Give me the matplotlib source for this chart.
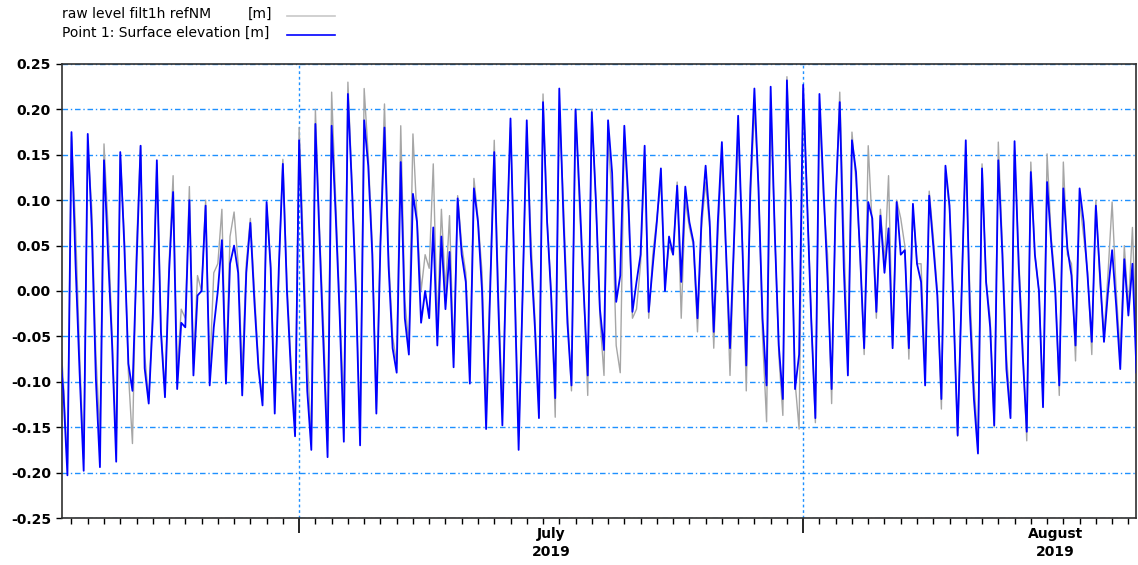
# -*- coding: utf-8 -*-
"""
Niveau d'eau au point 1 : comparaison modele / mesure filtree (juin - aout 2019)
"""
import pandas as pd
import matplotlib
matplotlib.use("Agg")
import matplotlib.pyplot as plt
import matplotlib.dates as mdates
from matplotlib.lines import Line2D
from matplotlib.ticker import FixedLocator, NullFormatter, MultipleLocator, FormatStrFormatter
from matplotlib.transforms import blended_transform_factory

plt.rcParams['font.family'] = 'DejaVu Sans'
plt.rcParams['axes.unicode_minus'] = False

"""
DONNEES : une valeur toutes les 6 h depuis le 1er juin 2019 00:00 (4 valeurs par jour)
"""
debut = "2019-06-01 00:00"

# Point 1: Surface elevation [m]
point1 = [
    0.02, -0.06, -0.11, -0.203,
    0.175, 0.03, -0.09, -0.198,
    0.173, 0.069, -0.097, -0.194,
    0.144, 0.04, -0.06, -0.188,
    0.153, 0.05, -0.08, -0.11,
    0.03, 0.16, -0.085, -0.124,
    -0.03, 0.144, -0.045, -0.117,
    0.02, 0.109, -0.108, -0.035,
    -0.04, 0.1, -0.093, -0.005,
    0.0, 0.094, -0.104, -0.04,
    0.0, 0.056, -0.102, 0.03,
    0.05, 0.02, -0.115, 0.02,
    0.075, -0.012, -0.085, -0.126,
    0.098, 0.025, -0.135, 0.025,
    0.14, 0.0, -0.09, -0.16,
    0.166, 0.03, -0.11, -0.175,
    0.184, 0.06, -0.06, -0.183,
    0.182, 0.083, -0.03, -0.166,
    0.217, 0.113, -0.005, -0.17,
    0.188, 0.138, 0.04, -0.135,
    0.05, 0.18, 0.028, -0.063,
    -0.09, 0.142, -0.03, -0.07,
    0.107, 0.076, -0.035, 0.0,
    -0.03, 0.07, -0.06, 0.06,
    -0.02, 0.043, -0.084, 0.102,
    0.04, 0.01, -0.102, 0.113,
    0.076, 0.0, -0.152, 0.0,
    0.153, -0.016, -0.148, 0.04,
    0.19, 0.006, -0.175, 0.0,
    0.188, 0.04, -0.04, -0.14,
    0.208, 0.076, -0.005, -0.118,
    0.223, 0.083, -0.035, -0.104,
    0.2, 0.105, 0.0, -0.093,
    0.197, 0.1, -0.02, -0.065,
    0.188, 0.13, -0.012, 0.017,
    0.182, 0.1, -0.023, 0.01,
    0.04, 0.16, -0.023, 0.028,
    0.076, 0.135, 0.0, 0.06,
    0.04, 0.116, 0.01, 0.115,
    0.076, 0.054, -0.03, 0.08,
    0.138, 0.076, -0.045, 0.076,
    0.164, 0.047, -0.063, 0.058,
    0.193, 0.054, -0.082, 0.113,
    0.223, 0.113, -0.03, -0.104,
    0.225, 0.065, -0.06, -0.119,
    0.232, 0.094, -0.108, -0.07,
    0.227, 0.094, -0.034, -0.14,
    0.217, 0.113, 0.014, -0.108,
    0.1, 0.208, 0.025, -0.093,
    0.166, 0.131, 0.04, -0.063,
    0.098, 0.08, -0.023, 0.083,
    0.02, 0.069, -0.063, 0.098,
    0.04, 0.045, -0.063, 0.096,
    0.03, 0.01, -0.104, 0.105,
    0.05, -0.005, -0.119, 0.138,
    0.094, -0.023, -0.159, 0.0,
    0.166, -0.023, -0.119, -0.179,
    0.135, 0.01, -0.04, -0.148,
    0.144, 0.04, -0.086, -0.14,
    0.165, 0.03, -0.07, -0.155,
    0.131, 0.04, 0.0, -0.128,
    0.12, 0.054, 0.0, -0.104,
    0.113, 0.047, 0.017, -0.06,
    0.113, 0.076, 0.014, -0.056,
    0.094, 0.02, -0.056, 0.0,
    0.045, -0.016, -0.086, 0.035,
    -0.027, 0.03, -0.09, -0.1,
]

# raw level filt1h refNM [m]
brut = [
    0.03, -0.03, -0.1, -0.19,
    0.17, 0.07, -0.07, -0.185,
    0.16, 0.09, -0.07, -0.16,
    0.162, 0.07, -0.05, -0.17,
    0.15, 0.06, -0.09, -0.168,
    0.05, 0.16, -0.07, -0.12,
    -0.02, 0.14, -0.04, -0.11,
    0.03, 0.127, -0.09, -0.02,
    -0.03, 0.115, -0.08, 0.017,
    0.0, 0.1, -0.09, 0.02,
    0.03, 0.09, -0.1, 0.06,
    0.087, 0.03, -0.09, 0.03,
    0.08, 0.0, -0.08, -0.12,
    0.095, 0.03, -0.12, 0.02,
    0.145, 0.01, -0.08, -0.15,
    0.18, 0.055, -0.07, -0.165,
    0.2, 0.07, -0.04, -0.165,
    0.219, 0.1, -0.02, -0.125,
    0.23, 0.12, 0.005, -0.16,
    0.223, 0.15, 0.05, -0.13,
    0.06, 0.206, 0.04, -0.05,
    -0.08, 0.182, -0.01, -0.06,
    0.173, 0.08, 0.0, 0.04,
    0.025, 0.14, -0.04, 0.09,
    0.0, 0.083, -0.07, 0.105,
    0.05, 0.02, -0.08, 0.124,
    0.08, 0.02, -0.13, 0.01,
    0.166, 0.0, -0.13, 0.05,
    0.18, 0.02, -0.16, 0.0,
    0.18, 0.06, -0.03, -0.13,
    0.217, 0.08, 0.0, -0.139,
    0.2, 0.1, -0.02, -0.11,
    0.2, 0.09, 0.0, -0.115,
    0.2, 0.1, -0.03, -0.093,
    0.17, 0.1, -0.06, -0.09,
    0.17, 0.09, -0.03, -0.02,
    0.03, 0.15, -0.03, 0.04,
    0.08, 0.12, 0.01, 0.05,
    0.04, 0.12, -0.03, 0.1,
    0.07, 0.05, -0.045, 0.07,
    0.12, 0.07, -0.063, 0.06,
    0.15, 0.04, -0.093, 0.05,
    0.175, 0.06, -0.11, 0.1,
    0.2, 0.12, -0.05, -0.144,
    0.2, 0.07, -0.07, -0.137,
    0.236, 0.1, -0.1, -0.152,
    0.22, 0.1, -0.03, -0.145,
    0.2, 0.1, 0.04, -0.124,
    0.1, 0.219, 0.06, -0.08,
    0.175, 0.12, 0.04, -0.07,
    0.16, 0.07, -0.03, 0.09,
    0.03, 0.127, -0.06, 0.1,
    0.08, 0.05, -0.075, 0.09,
    0.03, 0.03, -0.09, 0.11,
    0.06, 0.0, -0.13, 0.13,
    0.09, -0.02, -0.16, 0.01,
    0.15, 0.0, -0.1, -0.17,
    0.14, 0.01, -0.03, -0.15,
    0.164, 0.05, -0.07, -0.13,
    0.155, 0.04, -0.06, -0.165,
    0.142, 0.04, 0.0, -0.12,
    0.151, 0.06, 0.01, -0.115,
    0.142, 0.04, 0.03, -0.077,
    0.1, 0.06, 0.02, -0.07,
    0.1, 0.01, -0.05, 0.02,
    0.098, 0.0, -0.07, 0.05,
    -0.02, 0.07, -0.06, -0.08,
]

# graduations principales (sans texte) et etiquettes des mois
graduations = ["2019-06-16", "2019-07-17"]
mois = ["2019-07-01 12:00", "2019-08-01 12:00"]
noms_mois = ["July\n2019", "August\n2019"]

temps = pd.date_range(debut, periods=len(point1), freq="6h")

"""
TRACE
"""
fig = plt.figure(figsize=(11.38, 5.65), dpi=100)
ax = fig.add_axes([62/1138, 1-518/565, (1136-62)/1138, (518-64)/565])

grille = '#1e90ff'
ax.plot(temps, brut, color='#a6a6a6', lw=1.0, zorder=2)
ax.plot(temps, point1, color='#0000ff', lw=1.3, zorder=3)

ax.set_xlim(pd.Timestamp("2019-06-01 10:00"), pd.Timestamp("2019-08-06 11:15"))
ax.set_ylim(-0.25, 0.25)

# axe y
ax.yaxis.set_major_locator(MultipleLocator(0.05))
ax.yaxis.set_major_formatter(FormatStrFormatter('%.2f'))
ax.tick_params(axis='y', length=4, width=1, pad=4, labelsize=10)
for lab in ax.get_yticklabels():
    lab.set_fontweight('bold')

# axe x : un tiret par jour
ax.xaxis.set_minor_locator(mdates.DayLocator())
ax.xaxis.set_major_locator(FixedLocator([mdates.date2num(pd.Timestamp(d)) for d in graduations]))
ax.xaxis.set_major_formatter(NullFormatter())
ax.xaxis.set_minor_formatter(NullFormatter())
ax.tick_params(axis='x', which='minor', length=4, width=1)
ax.tick_params(axis='x', which='major', length=11, width=1.2)

trans = blended_transform_factory(ax.transData, ax.transAxes)
for d, nom in zip(mois, noms_mois):
    ax.text(mdates.date2num(pd.Timestamp(d)), -0.02, nom, transform=trans,
            ha='center', va='top', fontsize=10, fontweight='bold', linespacing=1.35)

# grilles
ax.grid(axis='y', color=grille, lw=1, linestyle=(0, (4, 2, 1, 2)))
ax.grid(axis='x', which='major', color=grille, lw=1, linestyle=(0, (2, 2)))
ax.set_axisbelow(True)
for s in ax.spines.values():
    s.set_color('#303030')
    s.set_linewidth(1.2)

# legende en haut a gauche
fig.text(62/1138, 1-14/565, "raw level filt1h refNM", fontsize=10, va='center')
fig.text(272/1138, 1-14/565, "[m]", fontsize=10, va='center', ha='right')
fig.text(62/1138, 1-33/565, "Point 1: Surface elevation [m]", fontsize=10, va='center')
fig.add_artist(Line2D([287/1138, 335/1138], [1-16/565, 1-16/565], color='#c8c8c8', lw=1.2))
fig.add_artist(Line2D([287/1138, 335/1138], [1-35/565, 1-35/565], color='#0000ff', lw=1.2))

plt.savefig("out.png", dpi=100)
